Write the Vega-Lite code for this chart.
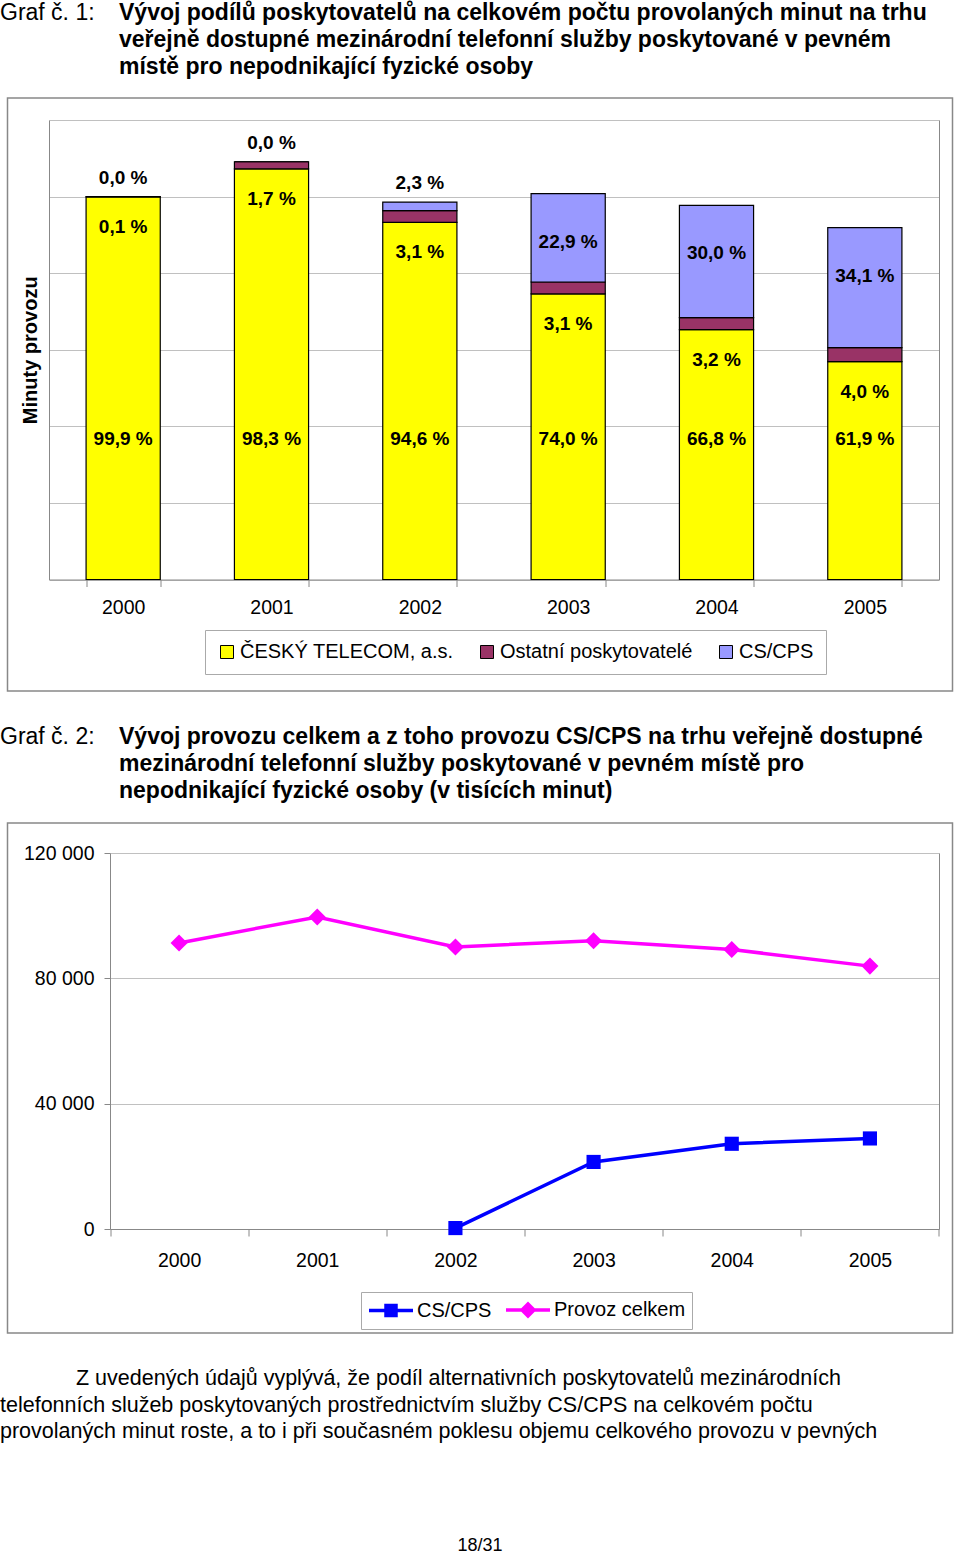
{
  "$schema": "https://vega.github.io/schema/vega-lite/v6.json",
  "padding": 0,
  "background": "white",
  "bounds": "flush",
  "center": true,
  "spacing": 0,
  "config": {"font": "Liberation Sans", "view": {"stroke": null}},
  "resolve": {"scale": {"color": "independent", "x": "independent", "y": "independent"}, "legend": {"color": "independent"}},
  "vconcat": [
    {
      "width": 960,
      "height": 98,
      "data": {"values": [
        {"part": "label", "line": 1, "text": "Graf č. 1:"},
        {"part": "body", "line": 1, "text": "Vývoj podílů poskytovatelů na celkovém počtu provolaných minut na trhu"},
        {"part": "body", "line": 2, "text": "veřejně dostupné mezinárodní telefonní služby poskytované v pevném"},
        {"part": "body", "line": 3, "text": "místě pro nepodnikající fyzické osoby"}
      ]},
      "encoding": {
        "x": {"field": "part", "type": "nominal", "scale": {"type": "point", "domain": ["label", "body"], "range": [0, 119], "padding": 0}, "axis": null},
        "y": {"field": "line", "type": "quantitative", "scale": {"domain": [1, 3], "range": [13, 67], "nice": false, "zero": false}, "axis": null},
        "text": {"field": "text"}
      },
      "layer": [
        {"transform": [{"filter": "datum.part === 'label'"}], "mark": {"type": "text", "align": "left", "baseline": "middle", "fontSize": 23, "color": "#000000"}},
        {"transform": [{"filter": "datum.part === 'body'"}], "mark": {"type": "text", "align": "left", "baseline": "middle", "fontSize": 23, "fontWeight": "bold", "color": "#000000"}}
      ]
    },
    {
      "width": 945,
      "height": 593,
      "view": {"stroke": "#888888", "strokeWidth": 1.5},
      "data": {"values": [
        {"year": "2000", "series": "ČESKÝ TELECOM, a.s.", "value": 91209, "label": "99,9 %"},
        {"year": "2000", "series": "Ostatní poskytovatelé", "value": 91, "label": "0,1 %"},
        {"year": "2000", "series": "CS/CPS", "value": 0, "label": "0,0 %"},
        {"year": "2001", "series": "ČESKÝ TELECOM, a.s.", "value": 97907, "label": "98,3 %"},
        {"year": "2001", "series": "Ostatní poskytovatelé", "value": 1693, "label": "1,7 %"},
        {"year": "2001", "series": "CS/CPS", "value": 0, "label": "0,0 %"},
        {"year": "2002", "series": "ČESKÝ TELECOM, a.s.", "value": 85140, "label": "94,6 %"},
        {"year": "2002", "series": "Ostatní poskytovatelé", "value": 2790, "label": "3,1 %"},
        {"year": "2002", "series": "CS/CPS", "value": 2070, "label": "2,3 %"},
        {"year": "2003", "series": "ČESKÝ TELECOM, a.s.", "value": 68080, "label": "74,0 %"},
        {"year": "2003", "series": "Ostatní poskytovatelé", "value": 2852, "label": "3,1 %"},
        {"year": "2003", "series": "CS/CPS", "value": 21068, "label": "22,9 %"},
        {"year": "2004", "series": "ČESKÝ TELECOM, a.s.", "value": 59586, "label": "66,8 %"},
        {"year": "2004", "series": "Ostatní poskytovatelé", "value": 2854, "label": "3,2 %"},
        {"year": "2004", "series": "CS/CPS", "value": 26760, "label": "30,0 %"},
        {"year": "2005", "series": "ČESKÝ TELECOM, a.s.", "value": 51934, "label": "61,9 %"},
        {"year": "2005", "series": "Ostatní poskytovatelé", "value": 3356, "label": "4,0 %"},
        {"year": "2005", "series": "CS/CPS", "value": 28610, "label": "34,1 %"}
      ]},
      "transform": [{"stack": "value", "groupby": ["year"], "sort": [{"field": "series", "order": "descending"}], "as": ["v0", "v1"]}],
      "encoding": {
        "x": {"field": "year", "type": "nominal",
          "scale": {"type": "band", "range": [41.5, 931.5], "paddingInner": 0.5, "paddingOuter": 0.25},
          "axis": {"title": null, "orient": "bottom", "offset": -111.5, "labelAngle": 0, "tickBand": "extent", "tickSize": 7, "tickColor": "#888888", "domainColor": "#888888", "labelFontSize": 19.5, "labelColor": "#000000", "labelPadding": 12, "grid": false}}
      },
      "layer": [
        {
          "mark": {"type": "bar", "stroke": "#000000", "strokeWidth": 1.2},
          "encoding": {
            "y": {"field": "v1", "type": "quantitative",
              "scale": {"domain": [0, 109560], "range": [481.5, 22], "nice": false},
              "axis": {"title": "Minuty provozu", "titleFontSize": 20, "titleFontWeight": "bold", "titleColor": "#000000", "titlePadding": 9, "labels": false, "ticks": false, "domain": true, "domainColor": "#888888", "grid": true, "gridColor": "#c0c0c0", "values": [0, 18260, 36520, 54780, 73040, 91300, 109560], "offset": -41.5}},
            "y2": {"field": "v0"},
            "color": {"field": "series", "type": "nominal",
              "scale": {"domain": ["ČESKÝ TELECOM, a.s.", "Ostatní poskytovatelé", "CS/CPS"], "range": ["#FFFF00", "#993366", "#9999FF"]},
              "legend": {"title": null, "orient": "none", "legendX": 197.5, "legendY": 532, "direction": "horizontal", "strokeColor": "#aaaaaa", "fillColor": "#ffffff", "padding": 12, "symbolType": "square", "symbolSize": 169, "symbolStrokeColor": "#000000", "symbolStrokeWidth": 1, "labelFontSize": 20, "labelColor": "#000000", "labelOffset": 3, "columnPadding": 23, "labelLimit": 400}}
          }
        },
        {
          "transform": [{"filter": "datum.series === 'ČESKÝ TELECOM, a.s.'"}],
          "mark": {"type": "text", "fontSize": 19, "fontWeight": "bold", "baseline": "middle", "dy": -141, "color": "#000000"},
          "encoding": {
            "y": {"field": "v0", "type": "quantitative", "axis": {"orient": "right", "offset": -13.5, "title": null, "labels": false, "ticks": false, "grid": false, "domainColor": "#888888"}},
            "text": {"field": "label"}
          }
        },
        {
          "transform": [{"filter": "datum.series === 'Ostatní poskytovatelé'"}],
          "mark": {"type": "text", "fontSize": 19, "fontWeight": "bold", "baseline": "middle", "dy": 30, "color": "#000000"},
          "encoding": {
            "y": {"field": "v0", "type": "quantitative", "axis": null},
            "text": {"field": "label"}
          }
        },
        {
          "transform": [{"filter": "datum.series === 'CS/CPS' && datum.value < 5000"}],
          "mark": {"type": "text", "fontSize": 19, "fontWeight": "bold", "baseline": "middle", "dy": -19, "color": "#000000"},
          "encoding": {
            "y": {"field": "v1", "type": "quantitative", "axis": null},
            "text": {"field": "label"}
          }
        },
        {
          "transform": [{"filter": "datum.series === 'CS/CPS' && datum.value >= 5000"}],
          "mark": {"type": "text", "fontSize": 19, "fontWeight": "bold", "baseline": "middle", "dy": 48, "color": "#000000"},
          "encoding": {
            "y": {"field": "v1", "type": "quantitative", "axis": null},
            "text": {"field": "label"}
          }
        }
      ],
      "resolve": {"axis": {"y": "independent"}}
    },
    {
      "width": 960,
      "height": 132,
      "data": {"values": [
        {"part": "label", "line": 1, "text": "Graf č. 2:"},
        {"part": "body", "line": 1, "text": "Vývoj provozu celkem a z toho provozu CS/CPS na trhu veřejně dostupné"},
        {"part": "body", "line": 2, "text": "mezinárodní telefonní služby poskytované v pevném místě pro"},
        {"part": "body", "line": 3, "text": "nepodnikající fyzické osoby (v tisících minut)"}
      ]},
      "encoding": {
        "x": {"field": "part", "type": "nominal", "scale": {"type": "point", "domain": ["label", "body"], "range": [0, 119], "padding": 0}, "axis": null},
        "y": {"field": "line", "type": "quantitative", "scale": {"domain": [1, 3], "range": [46, 100], "nice": false, "zero": false}, "axis": null},
        "text": {"field": "text"}
      },
      "layer": [
        {"transform": [{"filter": "datum.part === 'label'"}], "mark": {"type": "text", "align": "left", "baseline": "middle", "fontSize": 23, "color": "#000000"}},
        {"transform": [{"filter": "datum.part === 'body'"}], "mark": {"type": "text", "align": "left", "baseline": "middle", "fontSize": 23, "fontWeight": "bold", "color": "#000000"}}
      ]
    },
    {
      "width": 945,
      "height": 510,
      "view": {"stroke": "#888888", "strokeWidth": 1.5},
      "data": {"values": [
        {"year": "2000", "series": "Provoz celkem", "value": 91300},
        {"year": "2001", "series": "Provoz celkem", "value": 99600},
        {"year": "2002", "series": "Provoz celkem", "value": 90000},
        {"year": "2003", "series": "Provoz celkem", "value": 92000},
        {"year": "2004", "series": "Provoz celkem", "value": 89200},
        {"year": "2005", "series": "Provoz celkem", "value": 83900},
        {"year": "2002", "series": "CS/CPS", "value": 300},
        {"year": "2003", "series": "CS/CPS", "value": 21400},
        {"year": "2004", "series": "CS/CPS", "value": 27200},
        {"year": "2005", "series": "CS/CPS", "value": 28900}
      ]},
      "encoding": {
        "x": {"field": "year", "type": "nominal",
          "scale": {"type": "band", "domain": ["2000", "2001", "2002", "2003", "2004", "2005"], "range": [102.5, 931.5], "paddingInner": 0, "paddingOuter": 0},
          "axis": {"title": null, "orient": "bottom", "offset": -104, "labelAngle": 0, "tickBand": "extent", "tickSize": 7, "tickColor": "#888888", "domainColor": "#888888", "labelFontSize": 19.5, "labelColor": "#000000", "labelPadding": 15, "grid": false}},
        "color": {"field": "series", "type": "nominal",
          "scale": {"domain": ["CS/CPS", "Provoz celkem"], "range": ["#0000FF", "#FF00FF"]},
          "legend": {"title": null, "orient": "none", "legendX": 353.5, "legendY": 469, "direction": "horizontal", "strokeColor": "#aaaaaa", "fillColor": "#ffffff", "padding": 6, "symbolSize": 400, "labelFontSize": 20, "labelColor": "#000000", "labelOffset": 26, "columnPadding": 7, "symbolStrokeWidth": 3.5,
            "encode": {"symbols": {"update": {
              "shape": [{"test": "datum.value === 'CS/CPS'", "value": "M-1,0H3.4M0.7,-0.5H1.7V0.5H0.7Z"}, {"value": "M-1,0H3.4M1.2,-0.6L1.8,0L1.2,0.6L0.6,0Z"}],
              "fill": [{"test": "datum.value === 'CS/CPS'", "value": "#0000FF"}, {"value": "#FF00FF"}],
              "stroke": [{"test": "datum.value === 'CS/CPS'", "value": "#0000FF"}, {"value": "#FF00FF"}],
              "strokeWidth": {"value": 3.5},
              "opacity": {"value": 1}
            }}}}}
      },
      "layer": [
        {
          "mark": {"type": "line", "strokeWidth": 3.5},
          "encoding": {
            "y": {"field": "value", "type": "quantitative",
              "scale": {"domain": [0, 120000], "range": [406, 30], "nice": false},
              "axis": {"title": null, "values": [0, 40000, 80000, 120000], "labelExpr": "replace(format(datum.value, ','), ',', ' ')", "labelFontSize": 19.5, "labelColor": "#000000", "tickSize": 6, "tickColor": "#888888", "labelPadding": 10, "domainColor": "#888888", "grid": true, "gridColor": "#c0c0c0", "offset": -102.5}}
          }
        },
        {
          "transform": [{"filter": "datum.series === 'CS/CPS'"}],
          "mark": {"type": "point", "shape": "square", "filled": true, "size": 200, "opacity": 1},
          "encoding": {
            "y": {"field": "value", "type": "quantitative", "axis": {"orient": "right", "offset": -13.5, "title": null, "labels": false, "ticks": false, "grid": false, "domainColor": "#888888"}}
          }
        },
        {
          "transform": [{"filter": "datum.series === 'Provoz celkem'"}],
          "mark": {"type": "point", "shape": "diamond", "filled": true, "size": 290, "opacity": 1},
          "encoding": {
            "y": {"field": "value", "type": "quantitative", "axis": null}
          }
        }
      ],
      "resolve": {"axis": {"y": "independent"}}
    },
    {
      "width": 960,
      "height": 205,
      "data": {"values": [
        {"part": "first", "line": 1, "text": "Z uvedených údajů vyplývá, že podíl alternativních poskytovatelů mezinárodních"},
        {"part": "rest", "line": 2, "text": "telefonních služeb poskytovaných prostřednictvím služby CS/CPS na celkovém počtu"},
        {"part": "rest", "line": 3, "text": "provolaných minut roste, a to i při současném poklesu objemu celkového provozu v pevných"}
      ]},
      "mark": {"type": "text", "align": "left", "baseline": "middle", "fontSize": 21.5, "color": "#000000"},
      "encoding": {
        "x": {"field": "part", "type": "nominal", "scale": {"type": "point", "domain": ["rest", "first"], "range": [0, 76], "padding": 0}, "axis": null},
        "y": {"field": "line", "type": "quantitative", "scale": {"domain": [1, 3], "range": [46, 99], "nice": false, "zero": false}, "axis": null},
        "text": {"field": "text"}
      }
    },
    {
      "width": 960,
      "height": 16,
      "data": {"values": [{"text": "18/31"}]},
      "mark": {"type": "text", "align": "center", "baseline": "middle", "fontSize": 18, "color": "#000000"},
      "encoding": {"text": {"field": "text"}}
    }
  ]
}
